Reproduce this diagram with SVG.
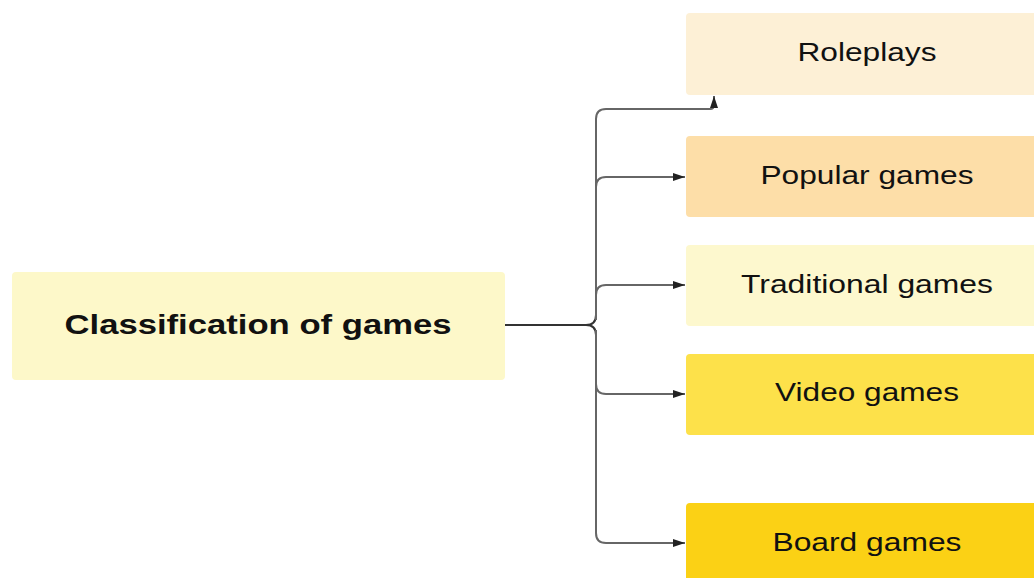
<svg xmlns="http://www.w3.org/2000/svg" width="1034" height="578" viewBox="0 0 1034 578">
  <style>
    .label { font-family: "Liberation Sans", Arial, sans-serif; font-size: 26px; fill: #111; text-anchor: middle; dominant-baseline: central; }
    .title { font-family: "Liberation Sans", Arial, sans-serif; font-size: 28px; font-weight: bold; fill: #111; text-anchor: middle; dominant-baseline: central; }
    .link { fill: none; stroke: #666; stroke-width: 2; }
  </style>
  <defs>
    <marker id="arrow" viewBox="0 0 12 10" refX="12" refY="5" markerWidth="6" markerHeight="5" orient="auto-start-reverse" markerUnits="strokeWidth">
      <path d="M0,1 L12,5 L0,9 Z" fill="#222"/>
    </marker>
  </defs>
  <rect width="1034" height="578" fill="#ffffff"/>

  <g id="connectors">
    <path class="link" style="stroke:#333" d="M505,325 H586 Q596,325 596,315 M586,325 Q596,325 596,335"/>
    <path class="link" marker-end="url(#arrow)" d="M596,320 V119 Q596,109 606,109 H710 Q714,109 714,105 V96"/>
    <path class="link" marker-end="url(#arrow)" d="M596,187 Q596,177 606,177 H685"/>
    <path class="link" marker-end="url(#arrow)" d="M596,295 Q596,285 606,285 H685"/>
    <path class="link" marker-end="url(#arrow)" d="M596,330 V533 Q596,543 606,543 H685"/>
    <path class="link" marker-end="url(#arrow)" d="M596,384 Q596,394 606,394 H685"/>
  </g>

  <g id="node-classification">
    <rect x="12" y="272" width="493" height="108" rx="4" fill="#fdf8c9"/>
    <text class="title" x="258" y="324" textLength="387" lengthAdjust="spacingAndGlyphs">Classification of games</text>
  </g>
  <g id="node-roleplays">
    <rect x="686" y="13" width="360" height="82" rx="4" fill="#fdf0d6"/>
    <text class="label" x="867" y="52" textLength="139" lengthAdjust="spacingAndGlyphs">Roleplays</text>
  </g>
  <g id="node-popular">
    <rect x="686" y="136" width="360" height="81" rx="4" fill="#fddea8"/>
    <text class="label" x="867" y="175" textLength="213" lengthAdjust="spacingAndGlyphs">Popular games</text>
  </g>
  <g id="node-traditional">
    <rect x="686" y="245" width="360" height="81" rx="4" fill="#fdf8ce"/>
    <text class="label" x="867" y="284" textLength="252" lengthAdjust="spacingAndGlyphs">Traditional games</text>
  </g>
  <g id="node-video">
    <rect x="686" y="354" width="360" height="81" rx="4" fill="#fde14a"/>
    <text class="label" x="867" y="392" textLength="184" lengthAdjust="spacingAndGlyphs">Video games</text>
  </g>
  <g id="node-board">
    <rect x="686" y="503" width="360" height="90" rx="4" fill="#fbd115"/>
    <text class="label" x="867" y="542" textLength="189" lengthAdjust="spacingAndGlyphs">Board games</text>
  </g>
</svg>
